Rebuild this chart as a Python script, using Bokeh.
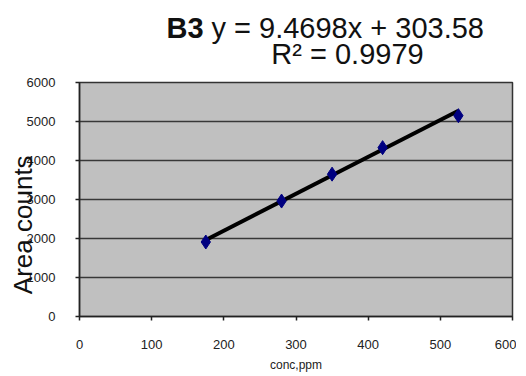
from bokeh.plotting import figure
from bokeh.layouts import column
from bokeh.models import Label, FixedTicker, Range1d
from bokeh.embed import file_html
from bokeh.resources import INLINE

conc = [175, 280, 350, 420, 525]
area = [1910, 2960, 3650, 4330, 5150]
slope = 9.4698
intercept = 303.58
r2 = 0.9979
x_ticks = [0, 100, 200, 300, 400, 500, 600]
y_ticks = [0, 1000, 2000, 3000, 4000, 5000, 6000]

W = 516
TH = 76
FONT = "Liberation Sans"

# title panel (text only); its frame is aligned with the main frame (79..512 px)
t = figure(width=W, height=TH, output_backend="svg", toolbar_location=None,
           x_range=Range1d(79, 512), y_range=Range1d(0, TH),
           x_axis_type=None, y_axis_type=None,
           min_border_left=0, min_border_right=0, min_border_top=0, min_border_bottom=0)
t.outline_line_color = None
t.background_fill_color = "white"
t.border_fill_color = "white"
t.xgrid.grid_line_color = None
t.ygrid.grid_line_color = None
t.add_layout(Label(x=166, y=TH - 27, text="B3", text_font=FONT, text_font_size="29px",
                   text_font_style="bold", text_baseline="middle", text_color="#111111"))
t.add_layout(Label(x=211, y=TH - 27, text="y = %.4fx + %.2f" % (slope, intercept),
                   text_font=FONT, text_font_size="29px", text_baseline="middle",
                   text_color="#111111"))
t.add_layout(Label(x=347, y=TH - 53, text="R² = %.4f" % r2, text_align="center",
                   text_font=FONT, text_font_size="29px", text_baseline="middle",
                   text_color="#111111"))

p = figure(width=W, height=298, output_backend="svg", toolbar_location=None,
           x_range=Range1d(0, 600), y_range=Range1d(0, 6000),
           min_border_left=79, min_border_right=4, min_border_top=6, min_border_bottom=56)
p.background_fill_color = "#c0c0c0"
p.border_fill_color = "white"
p.outline_line_color = "#333333"
p.outline_line_width = 1.5

p.xgrid.grid_line_color = None
p.ygrid.grid_line_color = "#383838"
p.ygrid.grid_line_width = 1.5

for ax in (p.xaxis[0], p.yaxis[0]):
    ax.axis_line_color = "#222222"
    ax.axis_line_width = 1.5
    ax.major_tick_line_color = "#222222"
    ax.major_tick_line_width = 1.5
    ax.major_tick_out = 4
    ax.major_tick_in = 0
    ax.minor_tick_line_color = None
    ax.major_label_text_font = FONT
    ax.major_label_text_font_size = "13px"
    ax.major_label_text_color = "#222222"

p.xaxis.ticker = FixedTicker(ticks=x_ticks)
p.yaxis.ticker = FixedTicker(ticks=y_ticks)
p.xaxis.major_label_standoff = 19
p.yaxis.major_label_standoff = 20
p.xaxis.axis_label = "conc,ppm"
p.xaxis.axis_label_text_font = FONT
p.xaxis.axis_label_text_font_style = "normal"
p.xaxis.axis_label_text_font_size = "12px"
p.xaxis.axis_label_text_color = "#222222"
p.xaxis.axis_label_standoff = 6

p.yaxis.axis_label = "Area counts" + "\u00a0" * 7
p.yaxis.axis_label_text_font = FONT
p.yaxis.axis_label_text_font_style = "normal"
p.yaxis.axis_label_text_font_size = "26px"
p.yaxis.axis_label_text_color = "#111111"
p.yaxis.axis_label_standoff = -14

tx = [min(conc), max(conc)]
ty = [slope * v + intercept for v in tx]
p.line(tx, ty, line_color="black", line_width=4)
p.scatter(conc, area, marker="diamond", size=14, fill_color="#000080", line_color="#000080")

layout = column(t, p, spacing=0)
open("out.html", "w").write(file_html(layout, INLINE))
